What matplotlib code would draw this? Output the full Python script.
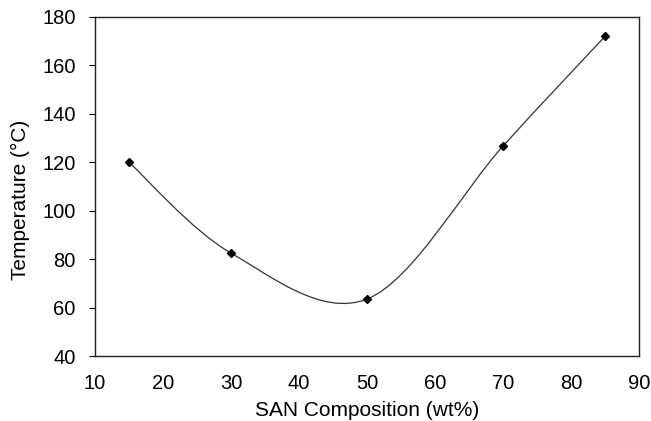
import matplotlib
matplotlib.use("Agg")
import matplotlib.pyplot as plt
import numpy as np
from matplotlib.path import Path
from matplotlib.patches import PathPatch

plt.rcParams['font.family'] = ['Liberation Sans', 'DejaVu Sans']

san_wt = [15, 30, 50, 70, 85]
temperature = [120, 82.5, 63.5, 126.7, 172]


def smooth_path(ax, xs, ys):
    # Excel-style smoothed line: cubic bezier through the points (Catmull-Rom tangents)
    pts = ax.transData.transform(np.column_stack([xs, ys]))
    verts = [pts[0]]
    codes = [Path.MOVETO]
    n = len(pts)
    for i in range(n - 1):
        p0 = pts[i - 1] if i > 0 else pts[i]
        p1 = pts[i]
        p2 = pts[i + 1]
        p3 = pts[i + 2] if i + 2 < n else pts[i + 1]
        c1 = p1 + (p2 - p0) / 6.0
        c2 = p2 - (p3 - p1) / 6.0
        verts += [c1, c2, p2]
        codes += [Path.CURVE4] * 3
    return Path(verts, codes)


fig = plt.figure(figsize=(6.51, 4.21), dpi=100)
ax = fig.add_axes([95 / 651, 1 - 356 / 421, (639 - 95) / 651, (356 - 17) / 421])

ax.set_xlim(10, 90)
ax.set_ylim(40, 180)
ax.set_xticks(range(10, 91, 10))
ax.set_yticks(range(40, 181, 20))
ax.tick_params(axis='y', direction='out', length=4, width=0.8, pad=10, labelsize=14.5)
ax.tick_params(axis='x', length=0, pad=13, labelsize=14.5)
for s in ax.spines.values():
    s.set_linewidth(1.0)
    s.set_color('#222222')

fig.canvas.draw()
path = smooth_path(ax, san_wt, temperature)
ax.add_patch(PathPatch(path, transform=None, facecolor='none', edgecolor='#333333', lw=0.9))
ax.plot(san_wt, temperature, linestyle='none', marker='D', markersize=4.5, color='black')

ax.set_xlabel('SAN Composition (wt%)', fontsize=15, labelpad=6)
ax.set_ylabel('Temperature (°C)', fontsize=15)
ax.yaxis.set_label_coords(-0.12, 0.46)

fig.savefig('out.png', dpi=100)
